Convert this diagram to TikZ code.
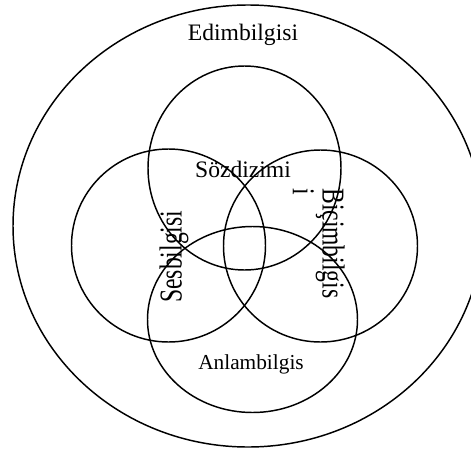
\documentclass[tikz,border=0pt]{standalone}
\usepackage{fontspec}
\setmainfont{Liberation Serif}
\begin{document}
\begin{tikzpicture}[x=0.75pt,y=-0.75pt,
  ring/.style={draw=black,line width=1.1pt},
  lbl/.style={inner sep=0pt,font=\fontsize{17.7pt}{20.5pt}\selectfont},
  lbltight/.style={inner sep=0pt,font=\fontsize{17.7pt}{15.2pt}\selectfont},
  lblsmall/.style={inner sep=0pt,font=\fontsize{16pt}{19pt}\selectfont}]
\useasboundingbox (0,0) rectangle (471,450);
\begin{scope}
\clip (0,0) rectangle (471,450);
\coordinate (outer) at (248,226);
\draw[ring] (outer) ellipse [x radius=235, y radius=221];
\end{scope}
\coordinate (top) at (244.5,168);
\coordinate (left) at (168.5,245.5);
\coordinate (right) at (320.5,246);
\coordinate (bottom) at (252.5,319.5);
\draw[ring] (top) ellipse [x radius=96.5, y radius=102];
\draw[ring] (left) ellipse [x radius=97, y radius=96.5];
\draw[ring] (right) ellipse [x radius=97, y radius=96];
\draw[ring] (bottom) ellipse [x radius=105, y radius=93];
\node[lbl,anchor=base] (edim) at (243,40.5) {Edimbilgisi};
\node[lbl,anchor=base] (soz) at (243,177.5) {Sözdizimi};
\node[lblsmall,anchor=base] (anlam) at (251,369.5) {Anlambilgis};
\node[lbl,anchor=base,rotate=90,yscale=1.35] (ses) at (181.5,256.7) {Sesbilgisi};
\node[lbltight,anchor=north west,align=left,rotate=-90,yscale=1.35] (bicim) at (345,188) {Biçimbilgis\\i};
\end{tikzpicture}
\end{document}
